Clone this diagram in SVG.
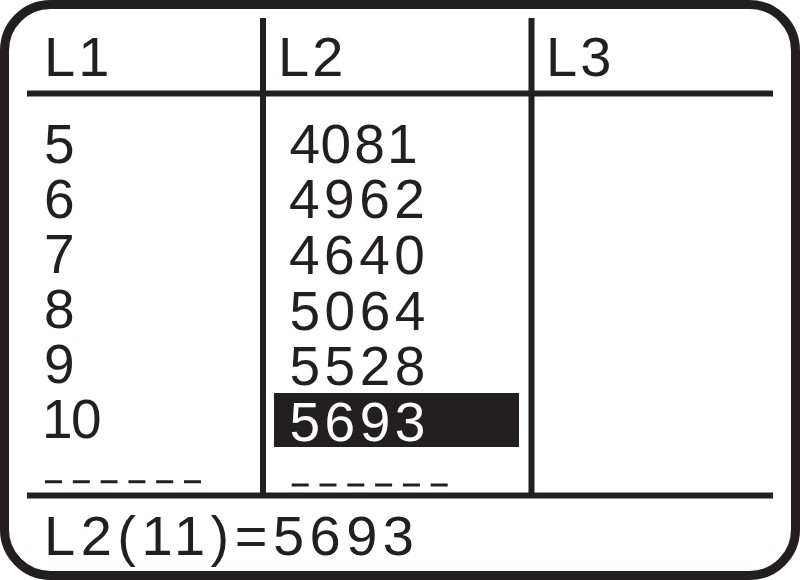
<svg xmlns="http://www.w3.org/2000/svg" width="800" height="580" viewBox="0 0 800 580">
<style>
.t{font-family:"Liberation Sans",Arial,sans-serif;font-size:56px;fill:#231f20}
.c{font-size:55px}
.h{letter-spacing:3px}
.n{letter-spacing:4.5px}
.w{fill:#ffffff}
.ln{stroke:#231f20;stroke-width:6;fill:none}
.dash{stroke:#231f20;stroke-width:3;fill:none;stroke-dasharray:17 10.8}
</style>
<rect x="0" y="0" width="800" height="580" fill="#ffffff"/>
<g id="frame">
<rect x="4.5" y="4.5" width="791" height="571" rx="46" ry="46" fill="#ffffff" stroke="#231f20" stroke-width="9"/>
</g>
<g id="connectors">
<line class="ln" x1="27" y1="93.5" x2="773" y2="93.5"/>
<line class="ln" x1="27" y1="495.5" x2="773" y2="495.5"/>
<line class="ln" x1="263" y1="18" x2="263" y2="495"/>
<line class="ln" x1="531.5" y1="18" x2="531.5" y2="495"/>
<path class="dash" d="M45 481.7H201"/>
<path class="dash" d="M291.7 485H448"/>
</g>
<g id="header-L1"><text class="t h" x="44" y="76">L1</text></g>
<g id="header-L2"><text class="t h" x="278" y="76">L2</text></g>
<g id="header-L3"><text class="t h" x="546" y="76">L3</text></g>
<g id="col-L1">
<text class="t c n"><tspan x="44" y="162.7">5</tspan><tspan x="44" y="217.8">6</tspan><tspan x="44" y="272.8">7</tspan><tspan x="44" y="327.9">8</tspan><tspan x="44" y="382.9">9</tspan><tspan x="42 71" y="438">10</tspan></text>
</g>
<g id="col-L2">
<text class="t c n"><tspan x="289.5 320.6 354.2 387" y="162.7">4081</tspan><tspan x="289" y="218.4">4962</tspan><tspan x="289" y="274">4640</tspan><tspan x="289.5" y="329.7">5064</tspan><tspan x="289.5" y="385.3">5528</tspan></text>
</g>
<g id="selected">
<rect x="274" y="393" width="245" height="54" fill="#231f20"/>
<text class="t c n w" x="289.5" y="441">5693</text>
</g>
<g id="status"><text class="t" x="44" y="555" style="letter-spacing:5.5px">L2(11)=5693</text></g>
</svg>
